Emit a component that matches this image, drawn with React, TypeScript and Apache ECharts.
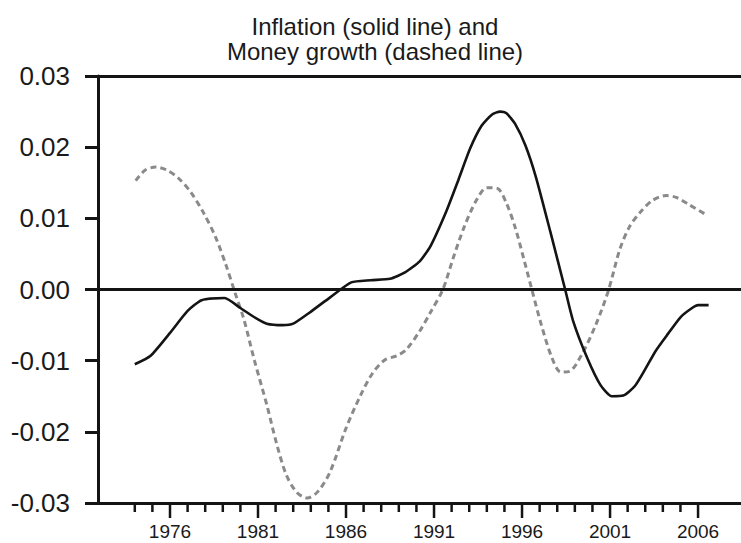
import React, { useEffect, useRef } from "react";
import * as echarts from "echarts";

const TITLE = "Inflation (solid line) and\nMoney growth (dashed line)";

const inflationYears = [
  1974.0, 1974.9, 1976.0, 1977.0, 1977.8, 1979.1, 1980.0, 1980.8, 1981.5, 1982.4,
  1983.0, 1983.9, 1985.1, 1986.3, 1987.4, 1988.5, 1989.35, 1990.2, 1990.8, 1991.7,
  1992.4, 1993.05, 1993.7, 1994.3, 1994.75, 1995.1, 1995.6, 1996.2, 1996.8, 1997.6,
  1998.45, 1998.9, 1999.7, 2000.45, 2001.1, 2001.75, 2002.4, 2003.0, 2003.6, 2004.3,
  2005.0, 2005.6, 2006.0, 2006.6,
];
const inflationValues = [
  -0.0105, -0.0093, -0.0061, -0.003, -0.0015, -0.0012, -0.0026, -0.0039, -0.0048, -0.005,
  -0.0048, -0.0033, -0.0011, 0.001, 0.0013, 0.0015, 0.0024, 0.004, 0.0061, 0.011,
  0.0155, 0.0198, 0.023, 0.0246, 0.025, 0.0248, 0.0233, 0.0202, 0.0157, 0.0082,
  0.0, -0.0044, -0.0096, -0.0134, -0.015, -0.0149, -0.0136, -0.0112, -0.0086, -0.0062,
  -0.0039, -0.0027, -0.0022, -0.0022,
];

const moneyYears = [
  1974.05, 1974.6, 1975.2, 1975.8, 1976.5, 1977.2, 1977.9, 1978.6, 1979.2, 1979.7,
  1980.2, 1980.8, 1981.5, 1982.05, 1982.6, 1983.2, 1983.8, 1984.4, 1985.1, 1986.0,
  1986.8, 1987.5, 1988.2, 1988.9, 1989.4, 1990.2, 1990.8, 1991.5, 1992.1, 1992.7,
  1993.4, 1994.0, 1994.6, 1995.1, 1995.6, 1996.1, 1996.6, 1997.1, 1997.7, 1998.2,
  1998.7, 1999.4, 2000.2, 2000.9, 2001.55, 2002.1, 2002.7, 2003.4, 2004.2, 2004.8,
  2005.5, 2006.4,
];
const moneyValues = [
  0.0153, 0.0168, 0.0172, 0.0168, 0.0156, 0.0136, 0.0108, 0.0073, 0.0033, -0.0005,
  -0.0042, -0.01, -0.0162, -0.0216, -0.026, -0.0285, -0.0293, -0.0284, -0.0256, -0.0195,
  -0.015, -0.0118, -0.0099, -0.0093, -0.0085, -0.0058, -0.0032, 0.0, 0.0045, 0.0087,
  0.0125, 0.0143, 0.0142, 0.0122, 0.0088, 0.0043, -0.0004, -0.005, -0.0096, -0.0116,
  -0.0115, -0.0091, -0.0049, -0.0002, 0.0056, 0.0088, 0.0108, 0.0125, 0.0132, 0.0129,
  0.0119, 0.0106,
];

const tickYears = [
  1974, 1975, 1976, 1977, 1978, 1979, 1980, 1981, 1982, 1983, 1984, 1985, 1986, 1987,
  1988, 1989, 1990, 1991, 1992, 1993, 1994, 1995, 1996, 1997, 1998, 1999, 2000, 2001,
  2002, 2003, 2004, 2005, 2006,
];
const labelYears = [1976, 1981, 1986, 1991, 1996, 2001, 2006];

const X_MIN = 1971.91;
const X_MAX = 2008.44;
const Y_MIN = -0.03;
const Y_MAX = 0.03;
const FONT = "'Liberation Sans', Arial, Helvetica, sans-serif";
const INK = "#141414";

export default function App() {
  const ref = useRef<HTMLDivElement>(null);
  useEffect(() => {
    if (!ref.current) return;
    const chart = echarts.init(ref.current, undefined, { renderer: "svg" });
    const inflation = inflationYears.map((y, i) => [y, inflationValues[i]]);
    const money = moneyYears.map((y, i) => [y, moneyValues[i]]);
    chart.setOption({
      animation: false,
      backgroundColor: "#ffffff",
      title: {
        text: TITLE,
        left: 370,
        top: 9,
        textAlign: "center",
        textStyle: {
          fontFamily: FONT,
          fontSize: 24,
          fontWeight: "normal",
          color: "#1a1a1a",
          lineHeight: 25,
        },
      },
      grid: { left: 98, right: 0, top: 76, bottom: 40, containLabel: false },
      xAxis: [
        {
          type: "value",
          min: X_MIN,
          max: X_MAX,
          position: "bottom",
          axisLine: { show: true, onZero: false, lineStyle: { color: INK, width: 3 } },
          axisTick: { show: false },
          axisLabel: {
            show: true,
            customValues: labelYears,
            formatter: (v: number) => String(Math.round(v)),
            fontFamily: FONT,
            fontSize: 19,
            color: "#1a1a1a",
            margin: 19,
          },
          splitLine: { show: false },
        },
        {
          type: "value",
          min: X_MIN,
          max: X_MAX,
          position: "top",
          axisLine: { show: true, onZero: false, lineStyle: { color: INK, width: 3 } },
          axisTick: { show: false },
          axisLabel: { show: false },
          splitLine: { show: false },
        },
      ],
      yAxis: {
        type: "value",
        min: Y_MIN,
        max: Y_MAX,
        interval: 0.01,
        axisLine: { show: true, onZero: false, lineStyle: { color: INK, width: 3 } },
        axisTick: { show: true, length: 13, lineStyle: { color: INK, width: 3 } },
        axisLabel: {
          fontFamily: FONT,
          fontSize: 26,
          color: "#1a1a1a",
          margin: 28,
          formatter: (v: number) => (Math.abs(v) < 1e-9 ? "0.00" : v.toFixed(2)),
        },
        splitLine: { show: false },
      },
      series: [
        {
          name: "Money growth",
          type: "line",
          xAxisIndex: 0,
          data: money,
          smooth: 0.3,
          showSymbol: false,
          symbol: "none",
          lineStyle: { color: "#8a8a8a", width: 3, type: [6, 4] },
          z: 2,
        },
        {
          name: "Inflation",
          type: "line",
          xAxisIndex: 0,
          data: inflation,
          smooth: 0.2,
          showSymbol: false,
          symbol: "none",
          lineStyle: { color: INK, width: 2.6 },
          z: 3,
          markLine: {
            silent: true,
            symbol: ["none", "none"],
            label: { show: false },
            lineStyle: { color: INK, width: 2.8, type: "solid" },
            data: [{ yAxis: 0 }],
          },
        },
      ],
    });
    // Year ticks on the x axis, positioned through the axis scale.
    const tickElements = tickYears.map((yr) => {
      const p = chart.convertToPixel({ xAxisIndex: 0, yAxisIndex: 0 }, [yr, Y_MIN]) as number[];
      const len = labelYears.indexOf(yr) >= 0 ? 15 : 9;
      return {
        type: "line",
        silent: true,
        z: 100,
        shape: { x1: p[0], y1: p[1], x2: p[0], y2: p[1] + len },
        style: { stroke: INK, lineWidth: 2.5 },
      };
    });
    chart.setOption({ graphic: { elements: tickElements } });
    return () => chart.dispose();
  }, []);
  return (
    <div
      ref={ref}
      style={{ position: "fixed", left: 0, top: 0, width: 741, height: 543, background: "#fff" }}
    />
  );
}
